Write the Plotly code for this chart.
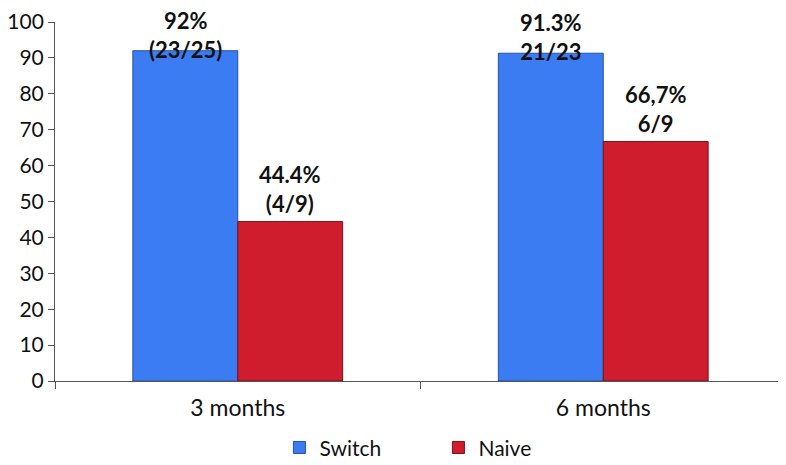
import plotly.graph_objects as go

categories = ["3 months", "6 months"]
switch_vals = [92, 91.3]
naive_vals = [44.4, 66.7]
switch_labels = ["92%<br>(23/25)", "91.3%<br>21/23"]
naive_labels = ["44.4%<br>(4/9)", "66,7%<br>6/9"]

fig = go.Figure()
fig.add_trace(go.Bar(
    x=categories, y=switch_vals, name="Switch",
    marker=dict(color="#3b7cf2", line=dict(color="#2452a8", width=1)),
))
fig.add_trace(go.Bar(
    x=categories, y=naive_vals, name="Naive",
    marker=dict(color="#cf1d2e", line=dict(color="#7a1018", width=1)),
))

# value labels above the bars
label_font = dict(family="Lato", size=22, color="#111111")
annotations = []
for i, cat in enumerate(categories):
    annotations.append(dict(
        x=cat, y=switch_vals[i], xref="x", yref="y",
        text="<b>" + switch_labels[i].replace("<br>", "</b><br><b>") + "</b>",
        showarrow=False, xshift=-52, yshift=16, yanchor="middle", font=label_font,
    ))
    annotations.append(dict(
        x=cat, y=naive_vals[i], xref="x", yref="y",
        text="<b>" + naive_labels[i].replace("<br>", "</b><br><b>") + "</b>",
        showarrow=False, xshift=52, yshift=33, yanchor="middle", font=label_font,
    ))

# page body has an 8px margin, so the figure is sized to fit the window
fig.update_layout(
    width=778, height=457,
    margin=dict(l=47, r=0, t=14, b=84, autoexpand=False),
    paper_bgcolor="white", plot_bgcolor="white",
    barmode="group", bargap=0.426, bargroupgap=0,
    font=dict(family="Lato", size=23, color="#111111"),
    showlegend=True,
    legend=dict(orientation="h", x=0.307, xanchor="left", y=-0.129, yanchor="top",
                font=dict(size=21), itemwidth=30, entrywidth=114, entrywidthmode="pixels",
                traceorder="normal"),
    annotations=annotations,
)
fig.update_xaxes(
    showline=True, linecolor="#555555", linewidth=1, automargin=False,
    ticks="outside", tickson="boundaries", ticklen=7, tickcolor="#555555",
    tickfont=dict(size=23), showgrid=False, ticklabelstandoff=6,
    ticklabeloverflow="allow",
)
fig.update_yaxes(
    range=[0, 100], dtick=10, showline=True, linecolor="#555555", linewidth=1,
    ticks="outside", ticklen=6, tickcolor="#555555", showgrid=False, automargin=False,
    tickfont=dict(size=21), zeroline=False, ticklabeloverflow="allow",
    ticklabelstandoff=0,
)

fig.write_html("out.html")
